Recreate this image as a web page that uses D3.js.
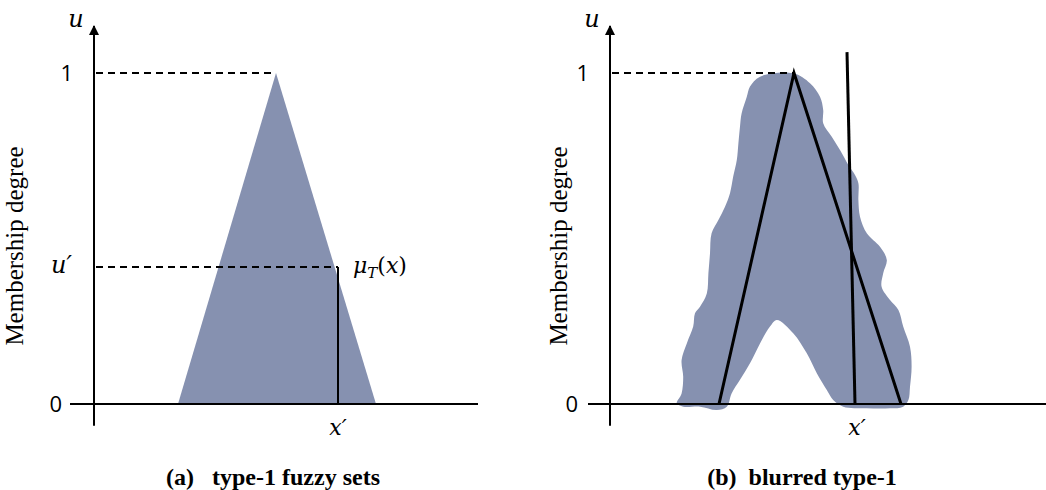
<!DOCTYPE html>
<html>
<head>
<meta charset="utf-8">
<script src="https://cdn.jsdelivr.net/npm/d3@7"></script>
<style>
  body { margin: 0; background: #fff; }
  svg { display: block; }
  .serif { font-family: "Liberation Serif", "Times New Roman", serif; }
  .math { font-family: "DejaVu Serif", "Liberation Serif", serif; font-style: italic; }
  .num { font-family: "Open Sans", sans-serif; }
</style>
</head>
<body>
<script>
// --- data (x in panel units, y in membership degree) ---
var yTickValues = [0, 1];
var yTickLabels = ["0", "1"];
var uPrime = 0.414;
var xPrimeLeft = 61;
var xPrimeRight = 61.25;

var triangleLeft = [[21, 0], [45.5, 1], [70.5, 0]];
var triangleRight = [[27.25, 0], [46, 1], [72.75, 0]];
var verticalRight = [[61.25, 0], [59.25, 1.063]];

// blurred outline, traced round the shape
var blob = [
  [37.5, 0.989], [45.8, 0.999], [50, 0.969], [52.5, 0.928], [53.3, 0.888],
  [53.3, 0.848], [55.4, 0.808], [57.5, 0.767], [59.6, 0.722], [61.25, 0.692],
  [62.1, 0.667], [62.1, 0.616], [62.5, 0.566], [64.2, 0.516], [67.5, 0.475],
  [69.2, 0.435], [68.3, 0.395], [67.9, 0.354], [70, 0.314], [72.1, 0.284],
  [73.3, 0.234], [75, 0.173], [75.4, 0.113], [75, 0.052], [74.6, 0.012],
  [73.3, -0.008], [70, -0.013], [64.2, -0.013], [58.3, -0.008], [55.8, 0.012],
  [54.2, 0.042], [51.7, 0.093], [49.2, 0.153], [45.8, 0.214], [41.7, 0.254],
  [40, 0.234], [37.5, 0.183], [35, 0.123], [32.5, 0.073], [30.4, 0.032],
  [29.2, -0.008], [26.7, -0.018], [22.5, -0.008], [18.3, -0.008], [16.7, 0.002],
  [17.9, 0.032], [18.3, 0.082], [17.9, 0.133], [19.2, 0.183], [20.8, 0.234],
  [21.25, 0.274], [22.5, 0.294], [24.2, 0.334], [24.6, 0.395], [25, 0.455],
  [25.4, 0.516], [27.1, 0.556], [28.75, 0.596], [30, 0.637], [30.8, 0.687],
  [31.7, 0.737], [32.1, 0.788], [32.5, 0.838], [32.9, 0.878], [34.2, 0.928],
  [35, 0.959]
];

var captions = ["(a)\u2002 type-1 fuzzy sets", "(b)\u2002blurred type-1"];

var width = 1046, height = 490;
var fillColor = "#8691b0";

var svg = d3.select("body").append("svg")
  .attr("width", width)
  .attr("height", height);

svg.append("defs").append("marker")
  .attr("id", "arrow")
  .attr("viewBox", "0 0 10 10")
  .attr("refX", 9).attr("refY", 5)
  .attr("markerWidth", 5).attr("markerHeight", 5)
  .attr("orient", "auto")
  .append("path")
  .attr("d", "M0,0 L10,5 L0,10 z")
  .attr("fill", "#000");

var y = d3.scaleLinear().domain([0, 1]).range([404, 73]);
var xL = d3.scaleLinear().domain([0, 100]).range([94, 494]);
var xR = d3.scaleLinear().domain([0, 100]).range([610, 1010]);

var line = function(x) {
  return d3.line().x(function(d) { return x(d[0]); }).y(function(d) { return y(d[1]); });
};

function drawAxes(g, x, xMin, xMax, labelX) {
  // x axis
  g.append("line")
    .attr("x1", x(xMin)).attr("x2", x(xMax))
    .attr("y1", y(0)).attr("y2", y(0))
    .attr("stroke", "#000").attr("stroke-width", 2);
  // y axis with arrow
  g.append("line")
    .attr("x1", x(0)).attr("x2", x(0))
    .attr("y1", y(-0.066)).attr("y2", y(1.142))
    .attr("stroke", "#000").attr("stroke-width", 2)
    .attr("marker-end", "url(#arrow)");

  g.append("text")
    .attr("class", "math")
    .attr("x", x(0) - 18).attr("y", y(1.142) + 1)
    .attr("text-anchor", "middle")
    .attr("font-size", 24)
    .text("u");

  g.selectAll(".tick-label").data(yTickValues).enter()
    .append("text")
    .attr("class", "tick-label num")
    .attr("x", function(d) { return d === 0 ? x(0) - 32 : x(0) - 21; })
    .attr("y", function(d) { return y(d) + 8; })
    .attr("text-anchor", "end")
    .attr("font-size", 22)
    .text(function(d, i) { return yTickLabels[i]; });

  g.append("text")
    .attr("class", "serif")
    .attr("transform", "translate(" + (labelX) + "," + 246 + ") rotate(-90)")
    .attr("text-anchor", "middle")
    .attr("font-size", 25)
    .text("Membership degree");
}

function dashed(g, x, x1, x2, v) {
  g.append("line")
    .attr("x1", x(x1)).attr("x2", x(x2))
    .attr("y1", y(v)).attr("y2", y(v))
    .attr("stroke", "#000").attr("stroke-width", 2)
    .attr("stroke-dasharray", "7,5");
}

// ---- panel (a) ----
var ga = svg.append("g");
ga.append("path")
  .datum(triangleLeft)
  .attr("d", line(xL).curve(d3.curveLinearClosed))
  .attr("fill", fillColor);

drawAxes(ga, xL, -6, 96, 23);
dashed(ga, xL, 0.5, triangleLeft[1][0], 1);
dashed(ga, xL, 0.5, xPrimeLeft, uPrime);

ga.append("line")
  .attr("x1", xL(xPrimeLeft)).attr("x2", xL(xPrimeLeft))
  .attr("y1", y(uPrime)).attr("y2", y(0))
  .attr("stroke", "#000").attr("stroke-width", 2);

ga.append("text")
  .attr("class", "math")
  .attr("x", xL(0) - 22).attr("y", y(uPrime) + 6)
  .attr("text-anchor", "end")
  .attr("font-size", 24)
  .text("u\u2032");

var mu = ga.append("text")
  .attr("class", "math")
  .attr("x", xL(xPrimeLeft) + 15).attr("y", y(uPrime) + 6)
  .attr("font-size", 22);
mu.append("tspan").text("\u03bc");
mu.append("tspan").attr("font-size", 15).attr("dy", 5).text("T");
mu.append("tspan").attr("dy", -5).attr("font-style", "normal").text("(");
mu.append("tspan").text("x");
mu.append("tspan").attr("font-style", "normal").text(")");

ga.append("text")
  .attr("class", "math")
  .attr("x", xL(xPrimeLeft)).attr("y", y(0) + 31)
  .attr("text-anchor", "middle")
  .attr("font-size", 22)
  .text("x\u2032");

ga.append("text")
  .attr("class", "serif")
  .attr("x", 273).attr("y", 485)
  .attr("text-anchor", "middle")
  .attr("font-size", 24)
  .attr("font-weight", "bold")
  .text(captions[0]);

// ---- panel (b) ----
var gb = svg.append("g");
gb.append("path")
  .datum(blob)
  .attr("d", line(xR).curve(d3.curveCatmullRomClosed.alpha(0.5)))
  .attr("fill", fillColor);

drawAxes(gb, xR, -5.5, 109, 567);
dashed(gb, xR, 0.5, triangleRight[1][0], 1);

gb.append("path")
  .datum(triangleRight)
  .attr("d", line(xR))
  .attr("fill", "none")
  .attr("stroke", "#000").attr("stroke-width", 3)
  .attr("stroke-linejoin", "miter");

gb.append("path")
  .datum(verticalRight)
  .attr("d", line(xR))
  .attr("fill", "none")
  .attr("stroke", "#000").attr("stroke-width", 3);

gb.append("text")
  .attr("class", "math")
  .attr("x", xR(xPrimeRight) + 2).attr("y", y(0) + 31)
  .attr("text-anchor", "middle")
  .attr("font-size", 22)
  .text("x\u2032");

gb.append("text")
  .attr("class", "serif")
  .attr("x", 802).attr("y", 485)
  .attr("text-anchor", "middle")
  .attr("font-size", 24)
  .attr("font-weight", "bold")
  .text(captions[1]);
</script>
</body>
</html>
